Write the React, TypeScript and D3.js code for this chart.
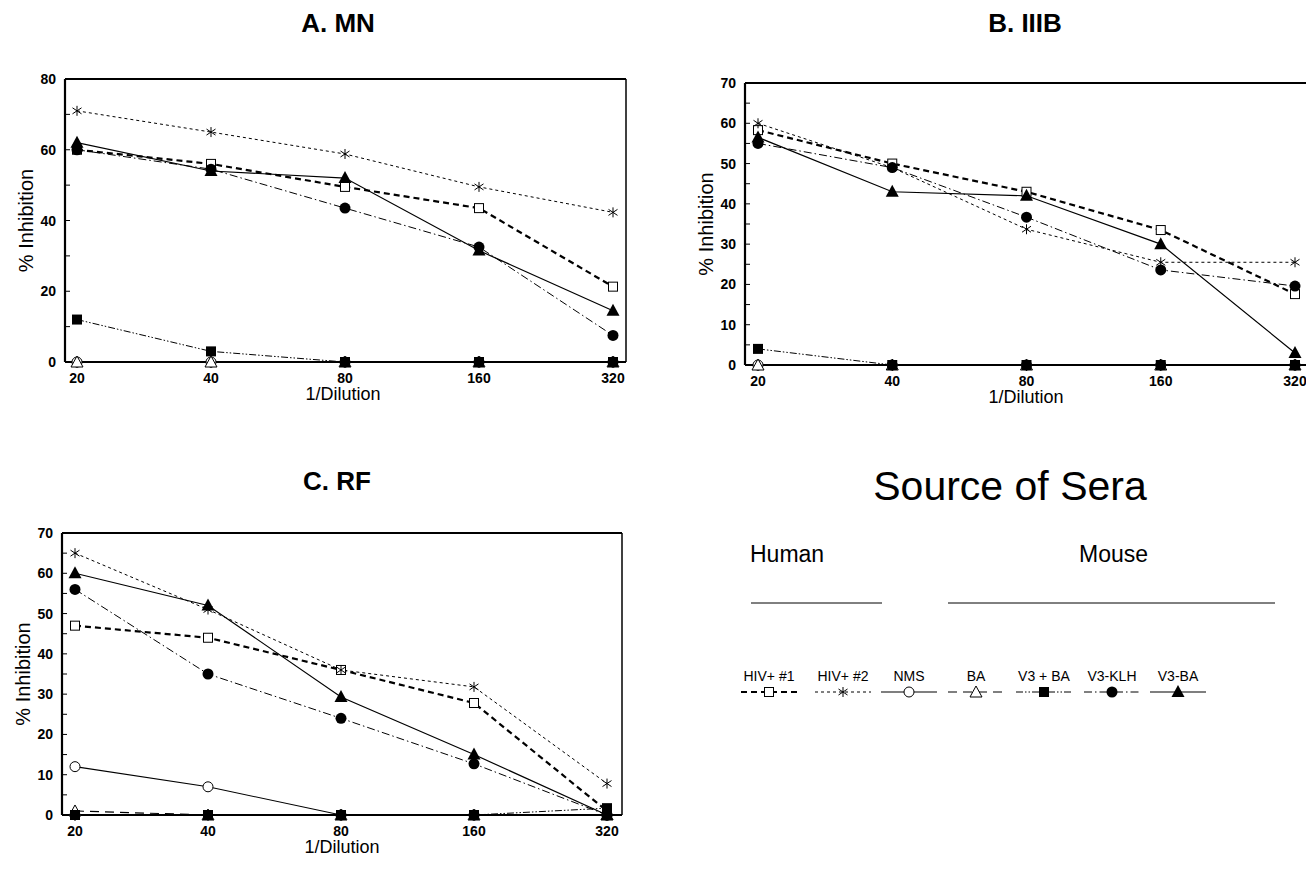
import React from "react";
import * as d3 from "d3";

const dilutions = ["20", "40", "80", "160", "320"];

const seriesNames = ["HIV+ #1", "HIV+ #2", "NMS", "BA", "V3 + BA", "V3-KLH", "V3-BA"];

// Panel A: MN
const mnHiv1 = [60, 56, 49.5, 43.5, 21.3];
const mnHiv2 = [71, 65, 58.8, 49.5, 42.3];
const mnNms = [0, 0, 0, 0, 0];
const mnBa = [0, 0, 0, 0, 0];
const mnV3BA = [12, 3, 0, 0, 0];
const mnV3KLH = [60, 54.5, 43.5, 32.5, 7.5];
const mnV3BAconj = [62, 54, 52, 31.5, 14.5];

// Panel B: IIIB
const iiibHiv1 = [58.3, 50, 43, 33.5, 17.6];
const iiibHiv2 = [60, 49, 33.7, 25.5, 25.5];
const iiibNms = [0, 0, 0, 0, 0];
const iiibBa = [0, 0, 0, 0, 0];
const iiibV3BA = [4, 0, 0, 0, 0];
const iiibV3KLH = [55, 49, 36.7, 23.6, 19.6];
const iiibV3BAconj = [56.5, 43, 42, 30, 3];

// Panel C: RF
const rfHiv1 = [47, 44, 36, 27.8, 1];
const rfHiv2 = [65, 51, 36, 31.8, 7.8];
const rfNms = [12, 7, 0, 0, 0];
const rfBa = [1, 0, 0, 0, 0];
const rfV3BA = [0, 0, 0, 0, 1.7];
const rfV3KLH = [56, 35, 24, 12.7, 0];
const rfV3BAconj = [60, 52, 29.3, 15, 0];

const yTicksA = [0, 20, 40, 60, 80];
const yTicksBC = [0, 10, 20, 30, 40, 50, 60, 70];

const FONT = "'Liberation Sans', Arial, Helvetica, sans-serif";

type Style = { dash: string; width: number; marker: string };
const styles: Style[] = [
  { dash: "6,4", width: 2.2, marker: "sqOpen" },
  { dash: "3,3", width: 1, marker: "star" },
  { dash: "", width: 1.1, marker: "circOpen" },
  { dash: "9,6", width: 1.2, marker: "triOpen" },
  { dash: "7,2,1.5,2,1.5,2", width: 1, marker: "sqFill" },
  { dash: "8,3,1.5,3", width: 1, marker: "circFill" },
  { dash: "", width: 1.2, marker: "triFill" },
];

function Marker({ type, x, y }: { type: string; x: number; y: number }) {
  const s = 5;
  switch (type) {
    case "sqOpen":
      return <rect x={x - 4.5} y={y - 4.5} width={9} height={9} fill="white" stroke="black" strokeWidth={1} />;
    case "sqFill":
      return <rect x={x - 5} y={y - 5} width={10} height={10} fill="black" />;
    case "circOpen":
      return <circle cx={x} cy={y} r={5} fill="white" stroke="black" strokeWidth={1} />;
    case "circFill":
      return <circle cx={x} cy={y} r={5.5} fill="black" />;
    case "triOpen":
      return <path d={`M${x},${y - 6}L${x + 6},${y + 5}L${x - 6},${y + 5}Z`} fill="white" stroke="black" strokeWidth={1} />;
    case "triFill":
      return <path d={`M${x},${y - 7}L${x + 6.5},${y + 5}L${x - 6.5},${y + 5}Z`} fill="black" />;
    case "star":
      return (
        <g stroke="black" strokeWidth={1}>
          <line x1={x} y1={y - s} x2={x} y2={y + s} />
          <line x1={x - 4.5} y1={y - 3} x2={x + 4.5} y2={y + 3} />
          <line x1={x - 4.5} y1={y + 3} x2={x + 4.5} y2={y - 3} />
        </g>
      );
    default:
      return null;
  }
}

type PanelProps = {
  title: string;
  titleX: number;
  titleY: number;
  left: number;
  right: number;
  top: number;
  bottom: number;
  xFirst: number;
  xLast: number;
  xLabelX: number;
  yMax: number;
  yTicks: number[];
  minorStep: number;
  data: number[][];
};

function Panel(p: PanelProps) {
  const x = d3.scalePoint<string>().domain(dilutions).range([p.xFirst, p.xLast]);
  const y = d3.scaleLinear().domain([0, p.yMax]).range([p.bottom, p.top]);
  const minor = d3.range(0, p.yMax + 0.001, p.minorStep);
  const line = d3
    .line<number>()
    .x((_, i) => x(dilutions[i]) as number)
    .y((d) => y(d));
  const order = [2, 3, 0, 1, 5, 6, 4];
  return (
    <g>
      <text x={p.titleX} y={p.titleY} textAnchor="middle" fontFamily={FONT} fontWeight="bold" fontSize={26}>
        {p.title}
      </text>
      {/* frame */}
      <line x1={p.left} x2={p.right} y1={p.top} y2={p.top} stroke="black" strokeWidth={1.8} />
      <line x1={p.right} x2={p.right} y1={p.top} y2={p.bottom} stroke="black" strokeWidth={1.5} />
      <line x1={p.left} x2={p.left} y1={p.top} y2={p.bottom} stroke="black" strokeWidth={2.2} />
      <line x1={p.left} x2={p.right} y1={p.bottom} y2={p.bottom} stroke="black" strokeWidth={2.2} />
      {/* y ticks */}
      {minor.map((t) => (
        <line key={"m" + t} x1={p.left} x2={p.left + 5} y1={y(t)} y2={y(t)} stroke="black" strokeWidth={1} />
      ))}
      {p.yTicks.map((t) => (
        <text
          key={"yt" + t}
          x={p.left - 9}
          y={y(t)}
          dy="0.36em"
          textAnchor="end"
          fontFamily={FONT}
          fontWeight="bold"
          fontSize={14}
        >
          {t}
        </text>
      ))}
      {/* x ticks */}
      {dilutions.map((d) => (
        <g key={"xt" + d}>
          <line x1={x(d)} x2={x(d)} y1={p.bottom} y2={p.bottom + 6} stroke="black" strokeWidth={1} />
          <text
            x={x(d)}
            y={p.bottom + 21}
            textAnchor="middle"
            fontFamily={FONT}
            fontWeight="bold"
            fontSize={14}
          >
            {d}
          </text>
        </g>
      ))}
      <text x={p.xLabelX} y={p.bottom + 38} textAnchor="middle" fontFamily={FONT} fontSize={18}>
        1/Dilution
      </text>
      <text
        transform={`translate(${p.left - 32},${(p.top + p.bottom) / 2}) rotate(-90)`}
        textAnchor="middle"
        fontFamily={FONT}
        fontSize={20}
      >
        % Inhibition
      </text>
      {/* lines */}
      {order.map((si) => (
        <path
          key={"l" + si}
          d={line(p.data[si]) || ""}
          fill="none"
          stroke="black"
          strokeWidth={styles[si].width}
          strokeDasharray={styles[si].dash}
        />
      ))}
      {order.map((si) =>
        p.data[si].map((v, i) => (
          <Marker key={"mk" + si + "-" + i} type={styles[si].marker} x={x(dilutions[i]) as number} y={y(v)} />
        ))
      )}
    </g>
  );
}

function Legend() {
  const itemX = [769, 843, 909, 976, 1044, 1112, 1178];
  return (
    <g fontFamily={FONT}>
      <text x={1010} y={500} textAnchor="middle" fontSize={41}>
        Source of Sera
      </text>
      <text x={750} y={562} fontSize={23}>
        Human
      </text>
      <text x={1079} y={562} fontSize={23}>
        Mouse
      </text>
      <line x1={751} x2={882} y1={603} y2={603} stroke="black" strokeWidth={1} />
      <line x1={948} x2={1275} y1={603} y2={603} stroke="black" strokeWidth={1} />
      {seriesNames.map((n, i) => (
        <g key={n}>
          <text x={itemX[i]} y={681} textAnchor="middle" fontSize={14}>
            {n}
          </text>
          <line
            x1={itemX[i] - 28}
            x2={itemX[i] + 28}
            y1={692}
            y2={692}
            stroke="black"
            strokeWidth={styles[i].width}
            strokeDasharray={styles[i].dash}
          />
          <Marker type={styles[i].marker} x={itemX[i]} y={692} />
        </g>
      ))}
    </g>
  );
}

export default function App() {
  const dataA = [mnHiv1, mnHiv2, mnNms, mnBa, mnV3BA, mnV3KLH, mnV3BAconj];
  const dataB = [iiibHiv1, iiibHiv2, iiibNms, iiibBa, iiibV3BA, iiibV3KLH, iiibV3BAconj];
  const dataC = [rfHiv1, rfHiv2, rfNms, rfBa, rfV3BA, rfV3KLH, rfV3BAconj];
  return (
    <svg
      width={1306}
      height={870}
      style={{ position: "absolute", left: 0, top: 0, background: "white" }}
    >
      <rect x={0} y={0} width={1306} height={870} fill="white" />
      <Panel
        title="A. MN"
        titleX={338}
        titleY={32}
        left={65}
        right={626}
        top={79}
        bottom={362}
        xFirst={77}
        xLast={613}
        xLabelX={343}
        yMax={80}
        yTicks={yTicksA}
        minorStep={10}
        data={dataA}
      />
      <Panel
        title="B. IIIB"
        titleX={1025}
        titleY={32}
        left={745}
        right={1308}
        top={83}
        bottom={365}
        xFirst={758}
        xLast={1295}
        xLabelX={1026}
        yMax={70}
        yTicks={yTicksBC}
        minorStep={5}
        data={dataB}
      />
      <Panel
        title="C. RF"
        titleX={337}
        titleY={490}
        left={62}
        right={622}
        top={533}
        bottom={815}
        xFirst={75}
        xLast={607}
        xLabelX={342}
        yMax={70}
        yTicks={yTicksBC}
        minorStep={5}
        data={dataC}
      />
      <Legend />
    </svg>
  );
}
